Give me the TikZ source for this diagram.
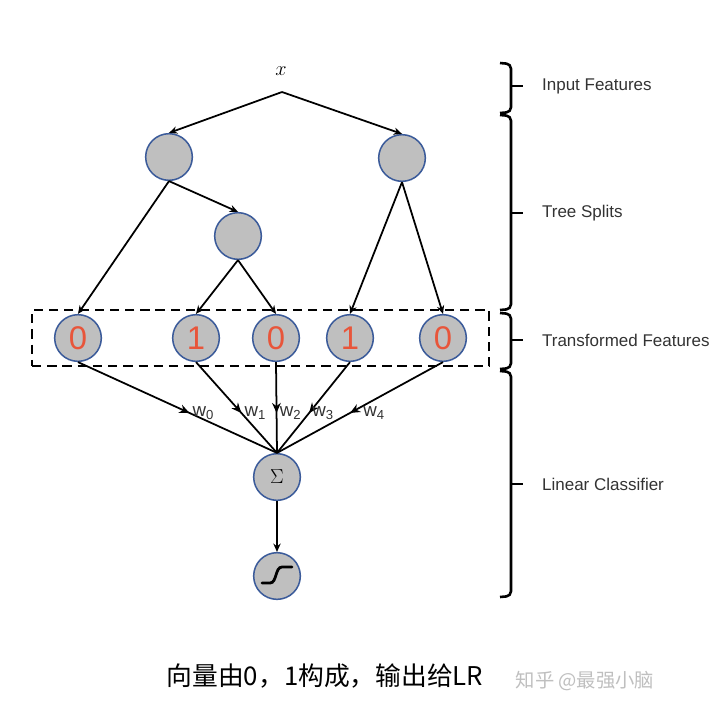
\documentclass[tikz,border=0pt]{standalone}
\usepackage{fontspec}
\setsansfont{Liberation Sans}
\newfontfamily\cjk{Noto Sans CJK SC}
\usepackage{tikz}
\usetikzlibrary{arrows.meta, positioning, calc, fit, decorations.markings}

\definecolor{nodeblue}{HTML}{3B5B9A}
\definecolor{nodegray}{HTML}{BFBFBF}
\definecolor{bitred}{HTML}{E8553A}
\definecolor{labelgray}{HTML}{333333}

\begin{document}
\begin{tikzpicture}[
    x=0.03cm, y=-0.03cm,
    unit/.style={circle, draw=nodeblue, fill=nodegray, line width=1.3pt, minimum size=1.4cm, inner sep=0pt},
    bit/.style={unit, font=\sffamily\fontsize{28}{30}\selectfont, text=bitred},
    link/.style={-{Stealth[length=0.25cm, width=0.22cm]}, line width=1.5pt},
    weighted/.style={line width=1.5pt, decoration={markings, mark=at position 0.56 with {\arrow{Stealth[length=0.3cm, width=0.26cm]}}}, postaction={decorate}},
    wlabel/.style={font=\sffamily\fontsize{16}{17}\selectfont, text=labelgray, inner sep=2pt},
    layer/.style={line width=2.2pt, rounded corners=4pt},
    layertext/.style={anchor=west, font=\sffamily\fontsize{14.5}{16}\selectfont, text=labelgray}
]
    \useasboundingbox (0,0) rectangle (720,717);

    % input and tree splits
    \node (x) at (281,71) {\fontsize{16}{18}\selectfont $x$};
    \coordinate (split) at (282,92);
    \node (a) [unit] at (169,157) {};
    \node (b) [unit] at (402,158) {};
    \node (c) [unit] at (238,236) {};

    % transformed features
    \node (f0) [bit] at (78,338) {0};
    \node (f1) [bit] at (196,338) {1};
    \node (f2) [bit] at (276,338) {0};
    \node (f3) [bit] at (350,338) {1};
    \node (f4) [bit] at (443,338) {0};
    \node (box) [draw, line width=1.4pt, dash pattern=on 8pt off 5pt, fit=(f0)(f4), inner xsep=0.66cm, inner ysep=0.12cm] {};

    % linear classifier
    \node (sum) [unit] at (277,477) {\fontsize{18}{20}\selectfont $\Sigma$};
    \node (out) [unit] at (277,576) {};
    \draw[line width=2.4pt, line cap=round] ($(out)+(-15,7)$) -- ++(8,0) .. controls +(7,0) and +(-7,0) .. ++(12,-16) -- ++(10,0);

    \draw[link] (split) -- (a.north);
    \draw[link] (split) -- (b.north);
    \draw[link] (a.south) -- (f0.north);
    \draw[link] (a.south) -- (c.north);
    \draw[link] (c.south) -- (f1.north);
    \draw[link] (c.south) -- (f2.north);
    \draw[link] (b.south) -- (f3.north);
    \draw[link] (b.south) -- (f4.north);

    \draw[weighted] (f0.south) -- node[wlabel, pos=.56, right] {w\textsubscript{0}} (sum.north);
    \draw[weighted] (f1.south) -- node[wlabel, pos=.56, right] {w\textsubscript{1}} (sum.north);
    \draw[weighted] (f2.south) -- node[wlabel, pos=.56, right] {w\textsubscript{2}} (sum.north);
    \draw[weighted] (f3.south) -- node[wlabel, pos=.56, right] {w\textsubscript{3}} (sum.north);
    \draw[weighted] (f4.south) -- node[wlabel, pos=.56, right, xshift=0.3cm] {w\textsubscript{4}} (sum.north);
    \draw[link] (sum) -- (out);

    % braces
    \foreach \top/\mid/\bot in {63/86/113, 115/213/310, 313/340/369, 371/484/597} {
        \draw[layer] (500,\top) -- (511,\top+1) -- (511,\bot-1) -- (500,\bot);
        \draw[line width=2.2pt] (511,\mid) -- (523,\mid);
    }
    \node (inp) [layertext] at (538,86) {Input Features};
    \node (spl) [layertext] at (538,213) {Tree Splits};
    \node (trf) [layertext] at (538,340) {Transformed Features};
    \node (lin) [layertext] at (538,484) {Linear Classifier};

    \node (caption) [font=\cjk\fontsize{22}{26}\selectfont] at (325,676) {向量由0，1构成，输出给LR};
    \node (mark) [font=\cjk\fontsize{16.5}{18}\selectfont, text=black!25] at (585,681) {知乎 @最强小脑};
\end{tikzpicture}
\end{document}
